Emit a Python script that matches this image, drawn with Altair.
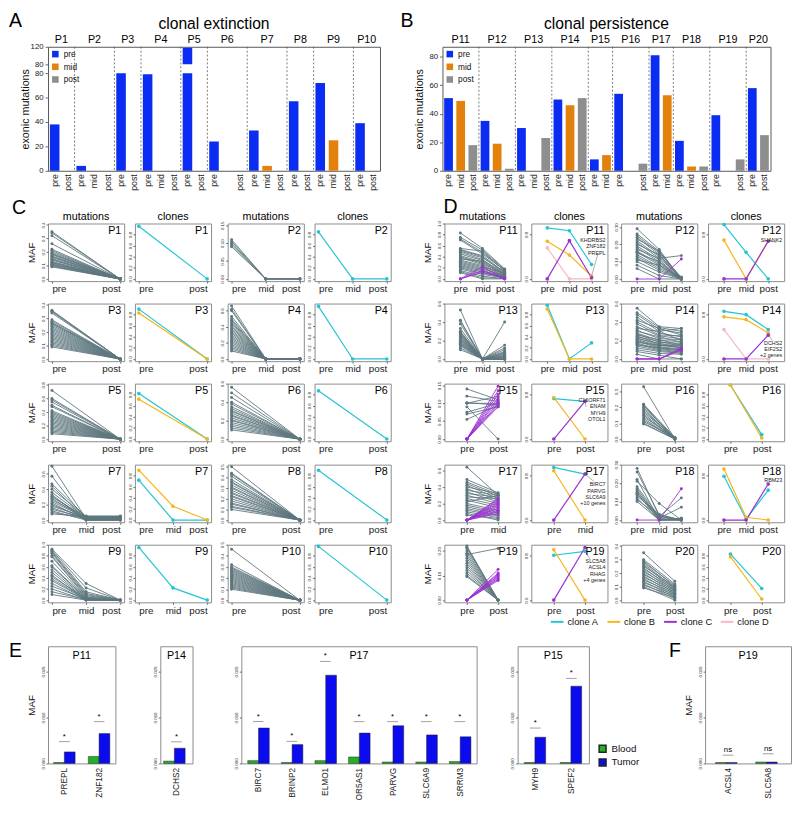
import altair as alt
import pandas as pd

FONT = "Liberation Sans"

PRE_BLUE, MID_ORANGE, POST_GREY = "#0b2df2", "#e3810d", "#8e8e8e"
MUT_GREY, MUT_PURPLE = "#5e777e", "#9b30d3"
CLONE_NAMES = ["clone A", "clone B", "clone C", "clone D"]
CLONE_COLORS = ["#24c4d6", "#f6b51b", "#9a30d0", "#f6b7c3"]
BLOOD_GREEN, TUMOR_BLUE = "#22b322", "#0b0bf0"

# ---------------- panel A : clonal extinction ----------------
A_PATIENTS = ["P1", "P2", "P3", "P4", "P5", "P6", "P7", "P8", "P9", "P10"]
A_SLOTS = [["pre", "post"], ["pre", "mid", "post"], ["pre", "post"], ["pre", "mid", "post"],
           ["pre", "post"], ["pre", "", "post"], ["pre", "mid", "post"], ["pre", "post"],
           ["pre", "mid", "post"], ["pre", "post"]]
A_COUNTS = [[38, 0], [4, 0, 0], [80, 0], [79, 0, 0], [118, 0], [24, 0, 0], [33, 4, 0],
            [57, 0], [72, 25, 0], [39, 0]]
A_Y_TICKS = [0, 20, 40, 60, 80, 80.5, 120]

# ---------------- panel B : clonal persistence ----------------
B_PATIENTS = ["P11", "P12", "P13", "P14", "P15", "P16", "P17", "P18", "P19", "P20"]
B_SLOTS = [["pre", "mid", "post"], ["pre", "mid", "post"], ["pre", "mid", "post"],
           ["pre", "mid", "post"], ["pre", "mid"], ["pre", "", "post"], ["pre", "mid"],
           ["pre", "mid", "post"], ["pre", "", "post"], ["pre", "post"]]
B_COUNTS = [[51, 49, 18], [35, 19, 1.5], [30, 0, 23], [50, 46, 51], [8, 11], [54, 0, 5],
            [81, 53], [21, 3, 3], [39, 0, 8], [58, 25]]
B_Y_TICKS = [0, 20, 40, 60, 80]

# ---------------- panels C / D : MAF trajectories ----------------
SLOTS = {
    "P1": ["pre", "post"], "P2": ["pre", "mid", "post"], "P3": ["pre", "post"],
    "P4": ["pre", "mid", "post"], "P5": ["pre", "post"], "P6": ["pre", "post"],
    "P7": ["pre", "mid", "post"], "P8": ["pre", "post"], "P9": ["pre", "mid", "post"],
    "P10": ["pre", "post"], "P11": ["pre", "mid", "post"], "P12": ["pre", "mid", "post"],
    "P13": ["pre", "mid", "post"], "P14": ["pre", "mid", "post"], "P15": ["pre", "post"],
    "P16": ["pre", "post"], "P17": ["pre", "mid"], "P18": ["pre", "mid", "post"],
    "P19": ["pre", "post"], "P20": ["pre", "post"],
}

MUT_GREY_LINES = {
    "P1": [(0.35, 0), (0.34, 0), (0.32, 0), (0.26, 0), (0.22, 0), (0.21, 0), (0.20, 0), (0.19, 0),
           (0.185, 0), (0.18, 0), (0.17, 0), (0.165, 0), (0.16, 0), (0.15, 0), (0.145, 0), (0.14, 0),
           (0.13, 0), (0.125, 0), (0.12, 0), (0.115, 0), (0.11, 0), (0.105, 0), (0.10, 0), (0.095, 0),
           (0.09, 0)],
    "P2": [(0.11, 0, 0), (0.105, 0, 0), (0.10, 0, 0), (0.095, 0, 0), (0.09, 0, 0)],
    "P3": [(0.36, 0), (0.355, 0), (0.35, 0), (0.34, 0), (0.29, 0), (0.28, 0), (0.27, 0), (0.265, 0),
           (0.26, 0), (0.25, 0), (0.24, 0), (0.23, 0), (0.22, 0), (0.21, 0), (0.20, 0), (0.19, 0),
           (0.18, 0), (0.17, 0), (0.16, 0), (0.15, 0), (0.14, 0), (0.13, 0), (0.12, 0), (0.11, 0),
           (0.10, 0), (0.09, 0)],
    "P4": [(0.66, 0, 0), (0.62, 0, 0), (0.60, 0, 0), (0.53, 0, 0), (0.50, 0, 0), (0.48, 0, 0),
           (0.46, 0, 0), (0.44, 0, 0), (0.42, 0, 0), (0.40, 0, 0), (0.38, 0, 0), (0.36, 0, 0),
           (0.34, 0, 0), (0.32, 0, 0), (0.30, 0, 0), (0.28, 0, 0), (0.26, 0, 0), (0.24, 0, 0),
           (0.22, 0, 0), (0.20, 0, 0), (0.18, 0, 0), (0.16, 0, 0), (0.14, 0, 0), (0.12, 0, 0),
           (0.10, 0, 0)],
    "P5": [(0.72, 0), (0.60, 0), (0.58, 0), (0.55, 0), (0.50, 0), (0.48, 0), (0.42, 0), (0.40, 0),
           (0.38, 0), (0.36, 0), (0.34, 0), (0.32, 0), (0.30, 0), (0.28, 0), (0.26, 0), (0.24, 0),
           (0.22, 0), (0.20, 0), (0.18, 0), (0.16, 0), (0.14, 0), (0.12, 0), (0.10, 0), (0.08, 0)],
    "P6": [(0.56, 0), (0.50, 0), (0.45, 0), (0.40, 0), (0.38, 0), (0.35, 0), (0.33, 0), (0.31, 0),
           (0.30, 0), (0.28, 0), (0.26, 0), (0.25, 0), (0.23, 0), (0.21, 0), (0.20, 0), (0.18, 0),
           (0.16, 0), (0.14, 0), (0.12, 0), (0.10, 0)],
    "P7": [(0.70, 0.02, 0.02), (0.57, 0.0, 0.0), (0.47, 0.04, 0.04), (0.44, 0.01, 0.01),
           (0.40, 0.05, 0.05), (0.36, 0.03, 0.03), (0.33, 0.0, 0.0), (0.31, 0.02, 0.02),
           (0.30, 0.04, 0.04), (0.28, 0.01, 0.01), (0.26, 0.05, 0.05), (0.24, 0.03, 0.03),
           (0.22, 0.0, 0.0), (0.20, 0.02, 0.02), (0.18, 0.04, 0.04), (0.16, 0.01, 0.01),
           (0.14, 0.03, 0.03), (0.12, 0.0, 0.0), (0.10, 0.02, 0.02), (0.08, 0.05, 0.05)],
    "P8": [(0.50, 0), (0.44, 0), (0.43, 0), (0.41, 0), (0.38, 0), (0.36, 0), (0.35, 0), (0.33, 0),
           (0.31, 0), (0.30, 0), (0.28, 0), (0.26, 0), (0.25, 0), (0.23, 0), (0.22, 0), (0.20, 0),
           (0.18, 0), (0.16, 0), (0.15, 0), (0.13, 0), (0.12, 0), (0.10, 0)],
    "P9": [(0.92, 0.30, 0), (0.90, 0.22, 0), (0.88, 0.15, 0), (0.86, 0.12, 0), (0.84, 0.10, 0),
           (0.80, 0.08, 0), (0.78, 0.06, 0), (0.70, 0.05, 0), (0.62, 0.04, 0), (0.60, 0.03, 0),
           (0.55, 0.02, 0), (0.50, 0.01, 0), (0.45, 0.0, 0), (0.42, 0.03, 0), (0.38, 0.02, 0),
           (0.35, 0.01, 0), (0.30, 0.0, 0), (0.25, 0.02, 0), (0.20, 0.0, 0), (0.15, 0.01, 0),
           (0.10, 0.0, 0)],
    "P10": [(0.46, 0), (0.32, 0), (0.30, 0), (0.29, 0), (0.28, 0), (0.27, 0), (0.26, 0), (0.25, 0),
            (0.24, 0), (0.23, 0), (0.22, 0), (0.21, 0), (0.20, 0), (0.19, 0), (0.18, 0), (0.17, 0),
            (0.16, 0), (0.15, 0), (0.14, 0), (0.13, 0), (0.12, 0), (0.11, 0), (0.10, 0)],
    "P11": [(0.83, 0.55, 0.18), (0.75, 0.52, 0.17), (0.72, 0.48, 0.15), (0.70, 0.45, 0.16),
            (0.55, 0.50, 0.14), (0.53, 0.42, 0.12), (0.52, 0.40, 0.10), (0.50, 0.38, 0.13),
            (0.48, 0.35, 0.08), (0.45, 0.33, 0.11), (0.42, 0.30, 0.06), (0.40, 0.28, 0.09),
            (0.38, 0.26, 0.05), (0.36, 0.32, 0.07), (0.34, 0.24, 0.04), (0.32, 0.22, 0.10),
            (0.30, 0.20, 0.03), (0.28, 0.18, 0.06), (0.26, 0.16, 0.02), (0.24, 0.14, 0.05),
            (0.22, 0.12, 0.01), (0.20, 0.10, 0.04), (0.18, 0.08, 0.02), (0.15, 0.05, 0.0),
            (0.13, 0.02, 0.01), (0.11, 0.0, 0.0)],
    "P12": [(0.29, 0.17, 0.0), (0.26, 0.16, 0.0), (0.25, 0.15, 0.01), (0.24, 0.14, 0.0),
            (0.23, 0.16, 0.0), (0.22, 0.13, 0.0), (0.21, 0.12, 0.01), (0.20, 0.14, 0.0),
            (0.19, 0.11, 0.0), (0.18, 0.10, 0.0), (0.17, 0.12, 0.135), (0.16, 0.09, 0.0),
            (0.155, 0.08, 0.0), (0.15, 0.10, 0.0), (0.14, 0.07, 0.0), (0.13, 0.06, 0.0),
            (0.12, 0.05, 0.0), (0.11, 0.08, 0.0), (0.10, 0.04, 0.0), (0.08, 0.02, 0.0),
            (0.06, 0.0, 0.0)],
    "P13": [(0.53, 0, 0.0), (0.42, 0, 0.0), (0.41, 0, 0.15), (0.38, 0, 0.0), (0.33, 0, 0.40),
            (0.30, 0, 0.12), (0.29, 0, 0.0), (0.28, 0, 0.10), (0.27, 0, 0.0), (0.26, 0, 0.08),
            (0.25, 0, 0.0), (0.24, 0, 0.07), (0.23, 0, 0.0), (0.22, 0, 0.06), (0.21, 0, 0.05),
            (0.20, 0, 0.0), (0.19, 0, 0.04), (0.18, 0, 0.03), (0.17, 0, 0.0), (0.16, 0, 0.02),
            (0.15, 0, 0.01), (0.14, 0, 0.0), (0.12, 0, 0.03), (0.10, 0, 0.0)],
    "P14": [(0.55, 0.35, 0.33), (0.50, 0.34, 0.30), (0.48, 0.32, 0.28), (0.45, 0.30, 0.33),
            (0.42, 0.33, 0.26), (0.40, 0.28, 0.24), (0.38, 0.26, 0.25), (0.35, 0.25, 0.22),
            (0.33, 0.30, 0.20), (0.31, 0.22, 0.21), (0.30, 0.24, 0.18), (0.28, 0.20, 0.19),
            (0.27, 0.18, 0.17), (0.26, 0.21, 0.15), (0.25, 0.16, 0.16), (0.24, 0.19, 0.14),
            (0.23, 0.15, 0.13), (0.22, 0.17, 0.12), (0.21, 0.14, 0.15), (0.20, 0.13, 0.11),
            (0.19, 0.12, 0.10), (0.18, 0.15, 0.12), (0.17, 0.11, 0.09), (0.16, 0.10, 0.08),
            (0.15, 0.12, 0.10), (0.14, 0.09, 0.07), (0.12, 0.08, 0.06), (0.10, 0.06, 0.05),
            (0.08, 0.04, 0.0), (0.05, 0.0, 0.0)],
    "P15": [(0.14, 0.11), (0.12, 0.105), (0.102, 0.095), (0.10, 0.12), (0.10, 0.10), (0.09, 0.0),
            (0.075, 0.10), (0.07, 0.09), (0.055, 0.095)],
    "P16": [(0.33, 0.0), (0.22, 0.01), (0.215, 0.0), (0.21, 0.0), (0.20, 0.01), (0.19, 0.0),
            (0.18, 0.0), (0.17, 0.01), (0.16, 0.0), (0.15, 0.0), (0.14, 0.01), (0.13, 0.0),
            (0.12, 0.0), (0.11, 0.01), (0.10, 0.0), (0.095, 0.0)],
    "P17": [(0.64, 0.30), (0.49, 0.33), (0.46, 0.31), (0.44, 0.29), (0.42, 0.26), (0.40, 0.32),
            (0.38, 0.24), (0.36, 0.30), (0.34, 0.22), (0.32, 0.28), (0.30, 0.20), (0.28, 0.26),
            (0.26, 0.18), (0.24, 0.15), (0.22, 0.30), (0.20, 0.12), (0.18, 0.10), (0.16, 0.08),
            (0.14, 0.06), (0.12, 0.05), (0.10, 0.03), (0.08, 0.0), (0.06, 0.02)],
    "P18": [(0.28, 0.02, 0.0), (0.26, 0.03, 0.0), (0.22, 0.0, 0.0), (0.21, 0.09, 0.0),
            (0.18, 0.02, 0.12), (0.17, 0.01, 0.07), (0.16, 0.0, 0.01), (0.15, 0.02, 0.0),
            (0.145, 0.0, 0.0), (0.14, 0.01, 0.0), (0.13, 0.03, 0.0), (0.12, 0.0, 0.01),
            (0.11, 0.02, 0.0), (0.10, 0.0, 0.0)],
    "P19": [(0.22, 0.0), (0.215, 0.0), (0.21, 0.0), (0.20, 0.0), (0.185, 0.21), (0.19, 0.0),
            (0.18, 0.0), (0.17, 0.0), (0.16, 0.0), (0.15, 0.0), (0.14, 0.0), (0.13, 0.0),
            (0.12, 0.0), (0.11, 0.0), (0.10, 0.0), (0.095, 0.0)],
    "P20": [(0.35, 0.14), (0.30, 0.12), (0.29, 0.10), (0.28, 0.11), (0.27, 0.09), (0.26, 0.08),
            (0.25, 0.10), (0.24, 0.07), (0.23, 0.09), (0.22, 0.06), (0.21, 0.08), (0.20, 0.05),
            (0.19, 0.07), (0.18, 0.04), (0.17, 0.06), (0.16, 0.03), (0.15, 0.05), (0.14, 0.02),
            (0.13, 0.04), (0.12, 0.01), (0.11, 0.03), (0.10, 0.0), (0.09, 0.02)],
}

MUT_NEW_LINES = {
    "P11": [(0, 0.22, 0), (0, 0.15, 0), (0, 0.12, 0.02)],
    "P12": [(0, 0, 0.115)],
    "P14": [(0, 0, 0.12), (0, 0, 0.105), (0, 0, 0.095)],
    "P15": [(0, 0.148), (0, 0.135), (0, 0.125), (0, 0.115), (0, 0.108), (0, 0.10), (0, 0.095), (0, 0.09)],
    "P17": [(0, 0.26), (0, 0.24), (0, 0.22), (0, 0.20), (0, 0.18), (0, 0.16), (0, 0.14), (0, 0.12),
            (0, 0.10), (0, 0.08)],
    "P18": [(0, 0, 0.17)],
    "P19": [(0, 0.125), (0, 0.11), (0, 0.105), (0, 0.10), (0, 0.095), (0, 0.09), (0, 0.085), (0, 0.08)],
}

# y-axis: (low, high, ticks, format)
MUT_AXES = {
    "P1": (-0.015, 0.41, [0, 0.1, 0.2, 0.3, 0.4], ".1f"),
    "P2": (-0.006, 0.155, [0, 0.05, 0.10, 0.15], ".2f"),
    "P3": (-0.015, 0.41, [0, 0.1, 0.2, 0.3, 0.4], ".1f"),
    "P4": (-0.027, 0.69, [0, 0.2, 0.4, 0.6], ".1f"),
    "P5": (-0.03, 0.82, [0, 0.2, 0.4, 0.6, 0.8], ".1f"),
    "P6": (-0.022, 0.60, [0, 0.2, 0.4, 0.6], ".1f"),
    "P7": (-0.028, 0.72, [0, 0.2, 0.4, 0.6], ".1f"),
    "P8": (-0.02, 0.52, [0, 0.1, 0.2, 0.3, 0.4, 0.5], ".1f"),
    "P9": (-0.04, 1.0, [0, 0.2, 0.4, 0.6, 0.8, 1.0], ".1f"),
    "P10": (-0.018, 0.50, [0, 0.1, 0.2, 0.3, 0.4, 0.5], ".1f"),
    "P11": (-0.04, 1.0, [0, 0.2, 0.4, 0.6, 0.8, 1.0], ".1f"),
    "P12": (-0.012, 0.32, [0, 0.1, 0.2, 0.3], ".2f"),
    "P13": (-0.024, 0.60, [0, 0.2, 0.4, 0.6], ".1f"),
    "P14": (-0.024, 0.60, [0, 0.2, 0.4, 0.6], ".1f"),
    "P15": (-0.006, 0.155, [0, 0.05, 0.10, 0.15], ".2f"),
    "P16": (-0.014, 0.35, [0, 0.1, 0.2, 0.3], ".1f"),
    "P17": (-0.026, 0.67, [0, 0.2, 0.4, 0.6], ".1f"),
    "P18": (-0.012, 0.30, [0, 0.1, 0.2, 0.3], ".2f"),
    "P19": (-0.009, 0.225, [0, 0.1, 0.2], ".2f"),
    "P20": (-0.016, 0.41, [0, 0.1, 0.2, 0.3, 0.4], ".1f"),
}

CLONE_TICKS = [0, 0.2, 0.4, 0.6, 0.8]
CLONES = {
    "P1": [("A", [0.95, 0])],
    "P2": [("A", [0.85, 0, 0])],
    "P3": [("A", [0.90, 0]), ("B", [0.83, 0])],
    "P4": [("A", [0.95, 0, 0])],
    "P5": [("A", [0.82, 0]), ("B", [0.72, 0])],
    "P6": [("A", [0.87, 0])],
    "P7": [("A", [0.72, 0, 0]), ("B", [0.90, 0.25, 0])],
    "P8": [("A", [0.90, 0])],
    "P9": [("A", [0.95, 0.22, 0])],
    "P10": [("A", [0.97, 0])],
    "P11": [("D", [0.56, 0, 0]), ("A", [0.92, 0.87, 0.26]), ("B", [0.68, 0.43, 0.05]), ("C", [0, 0.69, 0.02])],
    "P12": [("A", [0.98, 0.48, 0]), ("B", [0.70, 0, 0.69]), ("C", [0, 0, 0.68])],
    "P13": [("A", [0.97, 0, 0.29]), ("B", [0.90, 0, 0])],
    "P14": [("D", [0.53, 0, 0]), ("A", [0.86, 0.80, 0.53]), ("B", [0.76, 0.71, 0.47]), ("C", [0, 0, 0.43])],
    "P15": [("A", [0.73, 0.68]), ("B", [0.75, 0]), ("C", [0, 0.68])],
    "P16": [("A", [0.97, 0.08]), ("B", [0.97, 0.02])],
    "P17": [("A", [0.95, 0.83]), ("B", [0.89, 0]), ("C", [0, 0.83])],
    "P18": [("A", [0.79, 0.02, 0.54]), ("B", [0.92, 0.05, 0.0]), ("C", [0, 0, 0.65])],
    "P19": [("A", [0.81, 0.88]), ("B", [0.91, 0]), ("C", [0, 0.95])],
    "P20": [("A", [0.83, 0.21]), ("B", [0.78, 0.02])],
}

# gene labels: text, top of text (MAF), leader from (timepoint, MAF) to (pixel x, MAF)
CLONE_NOTES = {
    "P11": ("KHDRBS2\nZNF182\nPREPL", 0.74, "post", 0.05, 68, 0.44),
    "P12": ("SHANK2", 0.73, "post", 0.69, 70, 0.66),
    "P14": ("DCHS2\nEIF2S2\n+2 genes", 0.33, "post", 0.44, 66, 0.33),
    "P15": ("C16ORF71\nENAM\nMYH9\nOTOL1", 0.74, "post", 0.68, 56, 0.58),
    "P17": ("BIRC7\nPARVG\nSLC6A9\n+10 genes", 0.68, "mid", 0.83, 64, 0.70),
    "P18": ("RBM23", 0.76, "post", 0.62, 60, 0.69),
    "P19": ("SLC5A8\nACSL4\nRHAG\n+4 genes", 0.74, "post", 0.88, 60, 0.74),
}

C_ROWS = [["P1", "P2"], ["P3", "P4"], ["P5", "P6"], ["P7", "P8"], ["P9", "P10"]]
D_ROWS = [["P11", "P12"], ["P13", "P14"], ["P15", "P16"], ["P17", "P18"], ["P19", "P20"]]

# ---------------- panels E / F : deep sequencing ----------------
E_PANELS = [
    ("P11", ["PREPL", "ZNF182"], [0.0002, 0.0015], [0.0025, 0.0065], [0.00475, 0.0091], ["*", "*"]),
    ("P14", ["DCHS2"], [0.0005], [0.0033], [0.0047], ["*"]),
    ("P17", ["BIRC7", "BRINP2", "ELMO1", "OR5AS1", "PARVG", "SLC6A9", "SRRM3"],
     [0.0006, 0.0002, 0.0006, 0.0014, 0.0003, 0.0003, 0.0004],
     [0.0077, 0.0041, 0.0192, 0.0066, 0.0082, 0.0062, 0.0058],
     [0.0091, 0.0048, 0.0222, 0.0091, 0.0091, 0.0091, 0.0091], ["*"] * 7),
    ("P15", ["MYH9", "SPEF2"], [0.0002, 0.0002], [0.0057, 0.0168], [0.0077, 0.0185], ["*", "*"]),
    ("P19", ["ACSL4", "SLC5A8"], [0.0002, 0.0003], [0.0002, 0.0003], [0.0018, 0.0021], ["ns", "ns"]),
]
E_TICKS = [0, 0.005, 0.010, 0.015, 0.020, 0.025]
SOURCES = ["Blood", "Tumor"]

TINY_EXTENT = 8


def text_at(txt, x, y, size, align="left", baseline="middle", opacity=1.0):
    return alt.Chart(pd.DataFrame({"t": [txt]})).mark_text(
        fontSize=size, align=align, baseline=baseline, opacity=opacity, color="black"
    ).encode(x=alt.value(x), y=alt.value(y), text="t:N")


def tiny_y_axis(ticks, fmt, title=None):
    kw = dict(values=ticks, format=fmt, labelAngle=270, labelFontSize=4.5, tickSize=2,
              labelPadding=1, domain=False, grid=False, labelOverlap=False,
              minExtent=TINY_EXTENT, maxExtent=TINY_EXTENT)
    if title:
        return alt.Axis(title=title, titleFontSize=10, titleFontWeight="normal", titlePadding=4, **kw)
    return alt.Axis(title=None, **kw)


def tp_axis(flush):
    kw = dict(title=None, labelAngle=0, labelFontSize=10, tickSize=2, domain=False, labelPadding=1)
    if flush:
        kw["labelFlush"] = 6
    return alt.Axis(**kw)


def count_panel(patients, slots, counts, title, letter, y_scale, y_ticks, width, height,
                break_at=None, resume_at=None):
    keys, bars, odd, even, seps = [], [], [], [], []
    for gi, (p, sl, cl) in enumerate(zip(patients, slots, counts)):
        ks = [f"{p}|{s}|{i}" for i, s in enumerate(sl)]
        keys.extend(ks)
        for k, s, c in zip(ks, sl, cl):
            if not s or c <= 0:
                continue
            if break_at is not None and c > break_at:
                bars.append({"key": k, "tp": s, "lo": 0, "hi": break_at})
                bars.append({"key": k, "tp": s, "lo": resume_at, "hi": c})
            else:
                bars.append({"key": k, "tp": s, "lo": 0, "hi": c})
        n = len(ks)
        (odd if n % 2 else even).append({"key": ks[n // 2], "label": p})
        if gi:
            seps.append({"key": ks[0]})
    xs = alt.Scale(domain=keys, paddingInner=0, paddingOuter=0)
    xax = alt.Axis(title=None, labelExpr="split(datum.value, '|')[1]", labelAngle=270,
                   labelFontSize=9, ticks=False, domain=False, labelPadding=3)
    yax = alt.Axis(title="exonic mutations", values=y_ticks,
                   labelExpr="datum.value == 80.5 ? '80' : datum.label",
                   labelFontSize=8, tickSize=3, labelPadding=2, domain=False, grid=False,
                   labelOverlap=False, titleFontSize=11, titleFontWeight="normal", titlePadding=3,
                   minExtent=15, maxExtent=15)
    bar_layer = alt.Chart(pd.DataFrame(bars)).mark_bar(width=alt.RelativeBandSize(0.72)).encode(
        x=alt.X("key:N", scale=xs, axis=xax),
        y=alt.Y("lo:Q", scale=y_scale, axis=yax),
        y2="hi:Q",
        color=alt.Color("tp:N", scale=alt.Scale(domain=["pre", "mid", "post"],
                                                range=[PRE_BLUE, MID_ORANGE, POST_GREY]),
                        legend=alt.Legend(orient="top-left", title=None, symbolType="square",
                                          symbolSize=45, labelFontSize=8.5, rowPadding=4,
                                          offset=3, padding=0)),
    )
    sep_layer = alt.Chart(pd.DataFrame(seps)).mark_rule(
        strokeDash=[2, 2], color="#555", strokeWidth=0.8
    ).encode(x=alt.X("key:N", scale=xs, bandPosition=0))
    odd_layer = alt.Chart(pd.DataFrame(odd)).mark_text(fontSize=11, baseline="bottom").encode(
        x=alt.X("key:N", scale=xs, bandPosition=0.5), y=alt.value(-2), text="label:N")
    even_layer = alt.Chart(pd.DataFrame(even)).mark_text(fontSize=11, baseline="bottom").encode(
        x=alt.X("key:N", scale=xs, bandPosition=0), y=alt.value(-2), text="label:N")
    title_layer = text_at(title, width / 2, -18, 16, align="center", baseline="alphabetic")
    return alt.layer(bar_layer, sep_layer, odd_layer, even_layer, title_layer, letter).properties(
        width=width, height=height, view=alt.ViewBackground(stroke="#555"))


def mut_panel(pid, width, height, pad, flush, maf, header, extra=None):
    slots = SLOTS[pid]
    lo, hi, ticks, fmt = MUT_AXES[pid]
    x = alt.X("tp:N", scale=alt.Scale(type="point", domain=slots, padding=pad), axis=tp_axis(flush))
    y = alt.Y("maf:Q", scale=alt.Scale(domain=[lo, hi], nice=False, zero=False),
              axis=tiny_y_axis(ticks, fmt, "MAF" if maf else None))
    layers = []
    for lines, col in ((MUT_GREY_LINES.get(pid, []), MUT_GREY), (MUT_NEW_LINES.get(pid, []), MUT_PURPLE)):
        if not lines:
            continue
        df = pd.DataFrame([{"line": i, "tp": t, "maf": v}
                           for i, vals in enumerate(lines) for t, v in zip(slots, vals)])
        base = alt.Chart(df).encode(x=x, y=y, detail="line:N")
        layers.append(base.mark_line(color=col, strokeWidth=0.9))
        layers.append(base.mark_point(color=col, filled=True, size=9, opacity=1))
    layers.append(text_at(pid, width - 3, 2, 11, align="right", baseline="top"))
    if header:
        layers.append(text_at("mutations", width / 2, -4, 11, align="center", baseline="alphabetic"))
    if extra is not None:
        layers.extend(extra)
    return alt.layer(*layers).properties(width=width, height=height)


def clone_panel(pid, width, height, pad, flush, header):
    slots = SLOTS[pid]
    df = pd.DataFrame([{"clone": f"clone {name}", "tp": t, "f": v}
                       for name, vals in CLONES[pid] for t, v in zip(slots, vals)])
    x = alt.X("tp:N", scale=alt.Scale(type="point", domain=slots, padding=pad), axis=tp_axis(flush))
    y = alt.Y("f:Q", scale=alt.Scale(domain=[-0.04, 1.0], nice=False, zero=False),
              axis=tiny_y_axis(CLONE_TICKS, ".1f"))
    color = alt.Color("clone:N", scale=alt.Scale(domain=CLONE_NAMES, range=CLONE_COLORS),
                      legend=None)
    base = alt.Chart(df).encode(x=x, y=y, detail="clone:N", color=color)
    layers = [base.mark_line(strokeWidth=1.2), base.mark_point(filled=True, size=14, opacity=1)]
    if pid in CLONE_NOTES:
        txt, ty, tp, py, lx, ly = CLONE_NOTES[pid]
        note = pd.DataFrame([{"t": txt, "ty": ty, "tp": tp, "py": py, "ly": ly}])
        layers.append(alt.Chart(note).mark_rule(color="#777", strokeWidth=0.6).encode(
            x=alt.X("tp:N", scale=alt.Scale(type="point", domain=slots, padding=pad)),
            x2=alt.value(lx), y=alt.Y("py:Q"), y2=alt.Y2("ly:Q")))
        layers.append(alt.Chart(note).mark_text(
            fontSize=5.5, align="right", baseline="top", lineBreak="\n", lineHeight=6.5,
            color="#222").encode(x=alt.value(width - 2), y=alt.Y("ty:Q"), text="t:N"))
    layers.append(text_at(pid, width - 3, 2, 11, align="right", baseline="top"))
    if header:
        layers.append(text_at("clones", width / 2, -4, 11, align="center", baseline="alphabetic"))
    return alt.layer(*layers).properties(width=width, height=height)


def hcat(a, b, sp, color="shared"):
    return alt.hconcat(a, b, spacing=sp).resolve_scale(x="independent", y="independent", color=color)


# ---------------- build top row ----------------
a_scale = alt.Scale(domain=[0, 80, 80.5, 120], range=[127, 27, 18, 0], nice=False, zero=False)
b_scale = alt.Scale(domain=[0, 87], nice=False, zero=False)
chart_a = count_panel(A_PATIENTS, A_SLOTS, A_COUNTS, "clonal extinction",
                      text_at("A", -40, -26, 20), a_scale, A_Y_TICKS, 340, 127,
                      break_at=80, resume_at=80.5)
chart_b = count_panel(B_PATIENTS, B_SLOTS, B_COUNTS, "clonal persistence",
                      text_at("B", -43, -26, 20), b_scale, B_Y_TICKS, 336, 127)
row1 = hcat(chart_a, chart_b, 19, color="independent")

# ---------------- build grid ----------------
PW, PH = 78, 59
grid_rows = []
for r in range(5):
    pairs = []
    for side, order in (("C", C_ROWS), ("D", D_ROWS)):
        for j, pid in enumerate(order[r]):
            n = len(SLOTS[pid])
            is_c = side == "C"
            pad = 4 * (n - 1) / (PW - 8) if is_c else 0.72
            extra = None
            if is_c and j == 0:
                if r == 0:
                    extra = [text_at("C", -37, -16, 20)]
                else:
                    extra = [text_at("C", -37, 30, 20, opacity=0)]
            if side == "D" and j == 0 and r == 0:
                extra = [text_at("D", -1, -17, 20)]
            m = mut_panel(pid, PW, PH, pad, is_c, maf=(j == 0), header=(r == 0), extra=extra)
            c = clone_panel(pid, PW, PH, pad, is_c, header=(r == 0))
            pairs.append(hcat(m, c, 1))
    c_part = hcat(pairs[0], pairs[1], 7)
    d_part = hcat(pairs[2], pairs[3], 4)
    grid_rows.append(hcat(c_part, d_part, 31))
grid = alt.vconcat(*grid_rows, spacing=5).resolve_scale(x="independent", y="independent")

# ---------------- clone legend row ----------------
LEGEND_X0, LEGEND_STEP, LEGEND_SYMBOL = 515, 58, 13
legend_df = pd.DataFrame({
    "name": CLONE_NAMES,
    "color": CLONE_COLORS,
    "x0": [LEGEND_X0 + i * LEGEND_STEP for i in range(len(CLONE_NAMES))],
})
legend_df["x1"] = legend_df["x0"] + LEGEND_SYMBOL
legend_df["xt"] = legend_df["x0"] + LEGEND_SYMBOL + 4
legend_sym = alt.Chart(legend_df).mark_rule(strokeWidth=2).encode(
    x=alt.X("x0:Q", scale=None), x2="x1:Q", y=alt.value(5),
    color=alt.Color("color:N", scale=None))
legend_txt = alt.Chart(legend_df).mark_text(fontSize=9.5, align="left", baseline="middle",
                                            color="#111").encode(
    x=alt.X("xt:Q", scale=None), y=alt.value(5), text="name:N")
legend_row = alt.layer(legend_sym, legend_txt).properties(
    width=10, height=10, view=alt.ViewBackground(stroke="transparent"))

# ---------------- build E / F ----------------
E_WIDTHS = [69, 33, 241, 73, 88]
E_PAD = [0.16, 0.08, 0.19, 0.18, 0.26]
e_charts = []
for idx, (pid, genes, blood, tumor, sig, marks) in enumerate(E_PANELS):
    w = E_WIDTHS[idx]
    rows = []
    for g, b, t in zip(genes, blood, tumor):
        rows.append({"gene": g, "src": "Blood", "maf": b})
        rows.append({"gene": g, "src": "Tumor", "maf": t})
    xs = alt.Scale(domain=genes, paddingInner=0.38, paddingOuter=E_PAD[idx])
    x = alt.X("gene:N", scale=xs, axis=alt.Axis(title=None, labelAngle=270, labelFontSize=8.5,
                                                ticks=False, domain=False, labelPadding=4))
    maf_title = idx in (0, 4)
    y = alt.Y("maf:Q", scale=alt.Scale(domain=[0, 0.0255], nice=False),
              axis=tiny_y_axis(E_TICKS, ".3f", "MAF" if maf_title else None))
    legend = None
    if pid == "P15":
        legend = alt.Legend(orient="none", legendX=82, legendY=100, title=None, symbolType="square",
                            symbolSize=50, labelFontSize=10, rowPadding=0, labelOffset=4)
    bars = alt.Chart(pd.DataFrame(rows)).mark_bar(stroke="#222", strokeWidth=0.5).encode(
        x=x,
        xOffset=alt.XOffset("src:N", sort=SOURCES,
                            scale=alt.Scale(domain=SOURCES, paddingInner=0, paddingOuter=0)),
        y=y,
        color=alt.Color("src:N", scale=alt.Scale(domain=SOURCES, range=[BLOOD_GREEN, TUMOR_BLUE]),
                        legend=legend),
    )
    sdf = pd.DataFrame({"gene": genes, "sig": sig, "mark": marks})
    ticks = alt.Chart(sdf).mark_tick(orient="horizontal", color="#777", thickness=1, size=11).encode(
        x=alt.X("gene:N", scale=xs), y=alt.Y("sig:Q"))
    stars = alt.Chart(sdf).mark_text(fontSize=8, baseline="bottom", dy=-1).encode(
        x=alt.X("gene:N", scale=xs), y=alt.Y("sig:Q"), text="mark:N")
    layers = [bars, ticks, stars, text_at(pid, w / 2, 4, 11, align="center", baseline="top")]
    if idx == 0:
        layers.append(text_at("E", -40, 5, 20))
    if idx == 4:
        layers.append(text_at("F", -37, 5, 20))
    e_charts.append(alt.layer(*layers).properties(width=w, height=120))

e1 = hcat(e_charts[0], e_charts[1], 36, color="independent")
e2 = hcat(e1, e_charts[2], 40, color="independent")
e3 = hcat(e2, e_charts[3], 32, color="independent")
row_e = hcat(e3, e_charts[4], 28, color="independent")

upper = alt.vconcat(row1, grid, spacing=5).resolve_scale(
    x="independent", y="independent", color="independent")
lower = alt.vconcat(legend_row, row_e, spacing=13).resolve_scale(
    x="independent", y="independent", color="independent")

chart = alt.vconcat(upper, lower, spacing=0).resolve_scale(
    x="independent", y="independent", color="independent"
).properties(padding={"left": 0, "top": -7, "right": 0, "bottom": 0}).configure(font=FONT).configure_view(
    stroke="#8a8a8a", strokeWidth=1
).configure_axis(
    labelColor="#222", tickColor="#666", titleColor="#111"
).configure_legend(labelColor="#111")

chart.save("out.html", embed_options={"renderer": "svg", "actions": False})
